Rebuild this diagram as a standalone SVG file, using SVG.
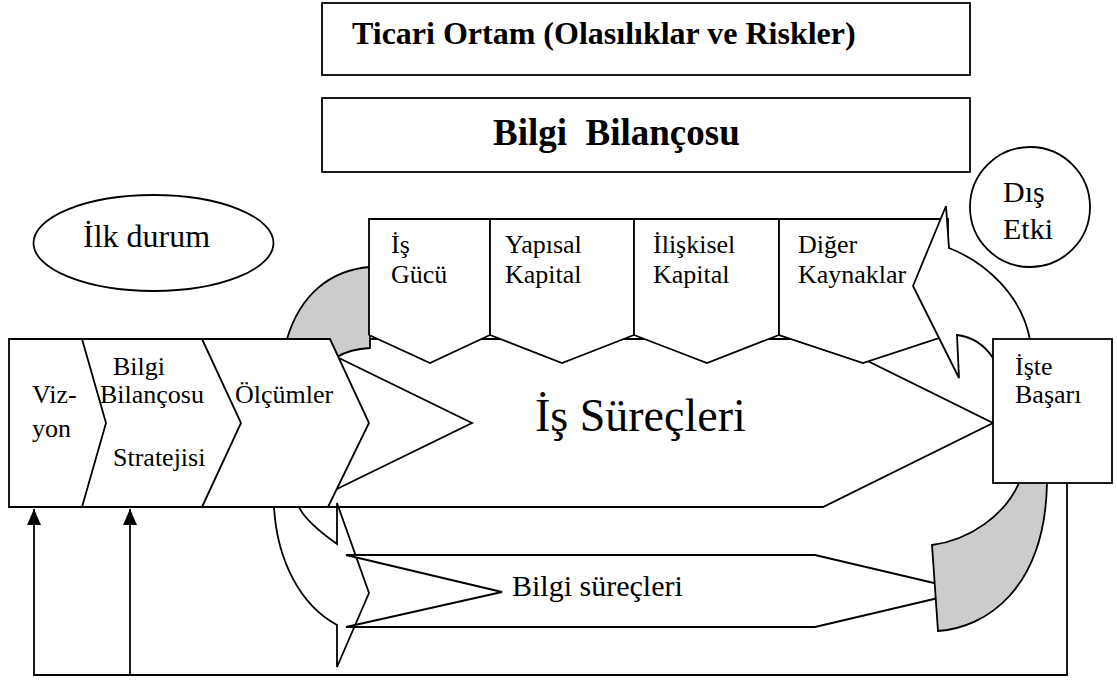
<svg xmlns="http://www.w3.org/2000/svg" width="1117" height="680" viewBox="0 0 1117 680">
<style>
.s{fill:#fff;stroke:#000;stroke-width:1.8;stroke-linejoin:miter}
.g{fill:#cccccc;stroke:#000;stroke-width:1.8}
.n{fill:none;stroke:#000;stroke-width:1.8}
.t{font-family:"Liberation Serif","Times New Roman",serif;fill:#000}
.b{font-weight:bold}
</style>
<defs>
<marker id="ah" viewBox="0 0 16 14" refX="16" refY="7" markerWidth="16" markerHeight="14" markerUnits="userSpaceOnUse" orient="auto">
<path d="M0,0 L16,7 L0,14 Z" fill="#000"/>
</marker>
</defs>
<rect width="1117" height="680" fill="#fff"/>

<g id="ticari">
<rect class="s" x="322" y="3" width="648" height="72"/>
<text class="t b" x="352" y="44" font-size="32">Ticari Ortam (Olasılıklar ve Riskler)</text>
</g>
<g id="bilanco">
<rect class="s" x="322" y="98" width="648" height="74"/>
<text class="t b" x="493" y="145" font-size="37" xml:space="preserve">Bilgi  Bilançosu</text>
</g>
<g id="ilkdurum">
<ellipse class="s" cx="153.5" cy="243" rx="120" ry="48"/>
<text class="t" x="83" y="247" font-size="32">İlk durum</text>
</g>
<g id="disetki">
<circle class="s" cx="1030" cy="207" r="60"/>
<text class="t" font-size="30"><tspan x="1003" y="202">Dış</tspan><tspan x="1003" y="239">Etki</tspan></text>
</g>

<g id="is-surecleri">
<polygon class="s" points="300,339 823,339 993,423 823,507 300,507 472,423"/>
<text class="t" x="535" y="431" font-size="46">İş Süreçleri</text>
</g>

<g id="arc-top-left">
<path class="g" d="M280,360 L287,339 C300,295 330,270 370,267 L370,348 Q350,349 337,357 L320,372 Z"/>
</g>

<g id="arc-bottom-left">
<path class="s" d="M268,470 L274,507 C277,560 300,605 337,625 L337,667 L369,593 L337,503 L337,544 C320,532 305,520 299,507 L290,470 Z"/>
</g>

<g id="bilgi-surecleri">
<polygon class="s" points="346,555 815,555 968,591 815,627 346,627 502,592"/>
<text class="t" x="512" y="596" font-size="30">Bilgi süreçleri</text>
</g>

<g id="arc-bottom-right">
<path class="g" d="M1021,465 L1019,483 C1005,515 970,540 932,545 L938,631 C985,628 1045,590 1047,483 L1047,465 Z"/>
</g>

<g id="strateji">
<polygon class="s" points="9,339 330,339 369,423 328,507 9,507"/>
<polyline class="n" points="82,339 106,423 82,507"/>
<polyline class="n" points="202,339 241,423 202,507"/>
<text class="t" font-size="26"><tspan x="32" y="403">Viz-</tspan><tspan x="32" y="437">yon</tspan></text>
<text class="t" font-size="26"><tspan x="113" y="375">Bilgi</tspan><tspan x="100" y="403">Bilançosu</tspan><tspan x="113" y="466">Stratejisi</tspan></text>
<text class="t" x="235" y="403" font-size="26">Ölçümler</text>
</g>

<g id="is-gucu">
<polygon class="s" points="369,219 490,219 490,335 430,363 369,335"/>
<text class="t" font-size="26"><tspan x="391" y="253">İş</tspan><tspan x="391" y="283">Gücü</tspan></text>
</g>
<g id="yapisal">
<polygon class="s" points="490,219 634,219 634,335 562,363 490,335"/>
<text class="t" font-size="26"><tspan x="505" y="253">Yapısal</tspan><tspan x="505" y="283">Kapital</tspan></text>
</g>
<g id="iliskisel">
<polygon class="s" points="634,219 779,219 779,335 707,363 634,335"/>
<text class="t" font-size="26"><tspan x="653" y="253">İlişkisel</tspan><tspan x="653" y="283">Kapital</tspan></text>
</g>
<g id="diger">
<polygon class="s" points="779,219 948,219 948,335 863,363 779,335"/>
<text class="t" font-size="26"><tspan x="798" y="253">Diğer</tspan><tspan x="798" y="283">Kaynaklar</tspan></text>
</g>

<g id="dis-etki-arrow">
<path class="s" d="M913,286 L946,206 L949,248 C985,262 1022,295 1030,340 L1036,372 L1002,370 L993,358 Q980,338 957,335 L959,378 Z"/>
</g>

<g id="iste-basari">
<rect class="s" x="993" y="339" width="119" height="144"/>
<text class="t" font-size="26"><tspan x="1015" y="375">İşte</tspan><tspan x="1015" y="403">Başarı</tspan></text>
</g>

<g id="connectors">
<polyline class="n" points="1067,483 1067,675 34,675 34,509" marker-end="url(#ah)"/>
<line class="n" x1="130" y1="675" x2="130" y2="509" marker-end="url(#ah)"/>
</g>
</svg>
